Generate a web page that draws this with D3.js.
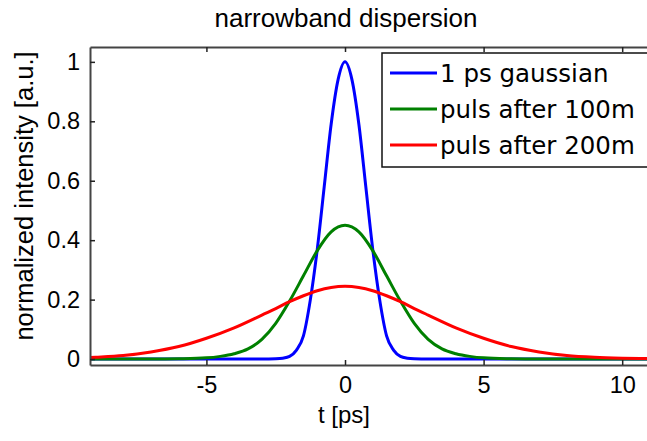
<!DOCTYPE html>
<html>
<head>
<meta charset="utf-8">
<script src="https://cdn.jsdelivr.net/npm/d3@7"></script>
<style>
  body { margin: 0; background: #fff; }
  text { font-family: "Liberation Sans", Arial, sans-serif; fill: #000; }
</style>
</head>
<body>
<svg id="chart" width="647" height="441"></svg>
<script>
// values
const blueT = [-9.2, -3, -2.5, -2.25, -2, -1.75, -1.5, -1.25, -1, -0.75, -0.5, -0.25, 0, 0.25, 0.5, 0.75, 1, 1.25, 1.5, 1.75, 2, 2.25, 2.5, 3, 11.4]
const blueI = [0, 0, 0.001, 0.003, 0.009, 0.03, 0.078, 0.2, 0.37, 0.58, 0.79, 0.94, 1.0, 0.94, 0.79, 0.58, 0.37, 0.2, 0.078, 0.03, 0.009, 0.003, 0.001, 0, 0]

const greenT = [-9.2, -7, -6, -5, -4.5, -4, -3.5, -3, -2.5, -2, -1.5, -1, -0.5, 0, 0.5, 1, 1.5, 2, 2.5, 3, 3.5, 4, 4.5, 5, 6, 7, 11.4]
const greenI = [0, 0, 0.001, 0.004, 0.009, 0.018, 0.034, 0.066, 0.12, 0.195, 0.28, 0.365, 0.428, 0.45, 0.428, 0.365, 0.28, 0.195, 0.12, 0.066, 0.034, 0.018, 0.009, 0.004, 0.001, 0, 0]

const redT = [-9.2, -9, -8, -7, -6, -5, -4, -3, -2.5, -2, -1.5, -1, -0.5, 0, 0.5, 1, 1.5, 2, 2.5, 3, 4, 5, 6, 7, 8, 9, 10, 11, 11.4]
const redI = [0.005, 0.006, 0.012, 0.024, 0.042, 0.07, 0.105, 0.148, 0.17, 0.193, 0.213, 0.23, 0.241, 0.245, 0.241, 0.23, 0.213, 0.193, 0.17, 0.148, 0.105, 0.07, 0.042, 0.024, 0.012, 0.006, 0.003, 0.0015, 0.001]

const seriesNames = ['1 ps gaussian', 'puls after 100m', 'puls after 200m']
const seriesColors = ['#0000ff', '#008000', '#ff0000']
const xTicks = [-5, 0, 5, 10]
const yTicks = [0, 0.2, 0.4, 0.6, 0.8, 1]

const margin = { left: 90, top: 47, right: 661, bottom: 365 }

const svg = d3.select('#chart')

const x = d3.scaleLinear()
  .domain([-9.2, 11.4])
  .range([margin.left, margin.right])

const y = d3.scaleLinear()
  .domain([-0.02, 1.05])
  .range([margin.bottom, margin.top])

svg.append('clipPath')
  .attr('id', 'plot-clip')
  .append('rect')
  .attr('x', margin.left)
  .attr('y', margin.top)
  .attr('width', margin.right - margin.left)
  .attr('height', margin.bottom - margin.top)

const series = [
  { t: blueT, v: blueI },
  { t: greenT, v: greenI },
  { t: redT, v: redI }
]

const line = d3.line()
  .x(d => x(d[0]))
  .y(d => y(d[1]))
  .curve(d3.curveMonotoneX)

series.forEach((s, i) => {
  const pts = s.t.map((t, j) => [t, s.v[j]])
  svg.append('path')
    .attr('d', line(pts))
    .attr('clip-path', 'url(#plot-clip)')
    .attr('fill', 'none')
    .attr('stroke', seriesColors[i])
    .attr('stroke-width', 3)
    .attr('stroke-linejoin', 'round')
})

// axes, ticks pointing inward
const bottomAxis = svg.append('g')
  .attr('transform', `translate(0,${margin.bottom})`)
  .call(d3.axisBottom(x).tickValues(xTicks).tickSize(-5).tickSizeOuter(0)
    .tickPadding(11).tickFormat(d => `${d}`))

const topAxis = svg.append('g')
  .attr('transform', `translate(0,${margin.top})`)
  .call(d3.axisTop(x).tickValues(xTicks).tickSize(-5).tickSizeOuter(0).tickFormat(''))

const leftAxis = svg.append('g')
  .attr('transform', `translate(${margin.left},0)`)
  .call(d3.axisLeft(y).tickValues(yTicks).tickSize(-5).tickSizeOuter(0)
    .tickPadding(10).tickFormat(d => `${d}`))

;[bottomAxis, topAxis, leftAxis].forEach(g => {
  g.select('.domain').attr('stroke', '#444').attr('stroke-width', 2)
  g.selectAll('.tick line').attr('stroke', '#222').attr('stroke-width', 1.5)
  g.selectAll('.tick text')
    .attr('font-size', 23.5)
    .attr('font-family', '"Liberation Sans", Arial, sans-serif')
    .attr('fill', '#000')
})

// legend
const legend = svg.append('g')

legend.append('rect')
  .attr('x', 382)
  .attr('y', 53)
  .attr('width', 300)
  .attr('height', 114)
  .attr('fill', '#fff')
  .attr('stroke', '#111')
  .attr('stroke-width', 1.5)

seriesNames.forEach((name, i) => {
  const ly = 73 + i * 36
  legend.append('line')
    .attr('x1', 390)
    .attr('x2', 437)
    .attr('y1', ly)
    .attr('y2', ly)
    .attr('stroke', seriesColors[i])
    .attr('stroke-width', 3)
  legend.append('text')
    .attr('x', 440)
    .attr('y', ly + 9)
    .attr('font-size', 24.5)
    .style('font-family', '"DejaVu Sans", Verdana, sans-serif')
    .text(name)
})

// labels
svg.append('text')
  .attr('x', 346)
  .attr('y', 27)
  .attr('text-anchor', 'middle')
  .attr('font-size', 26)
  .text('narrowband dispersion')

svg.append('text')
  .attr('x', 344)
  .attr('y', 423)
  .attr('text-anchor', 'middle')
  .attr('font-size', 24)
  .text('t [ps]')

svg.append('text')
  .attr('transform', `translate(33,${(margin.top + margin.bottom) / 2 - 10}) rotate(-90)`)
  .attr('text-anchor', 'middle')
  .attr('font-size', 25.5)
  .text('normalized intensity [a.u.]')
</script>
</body>
</html>
